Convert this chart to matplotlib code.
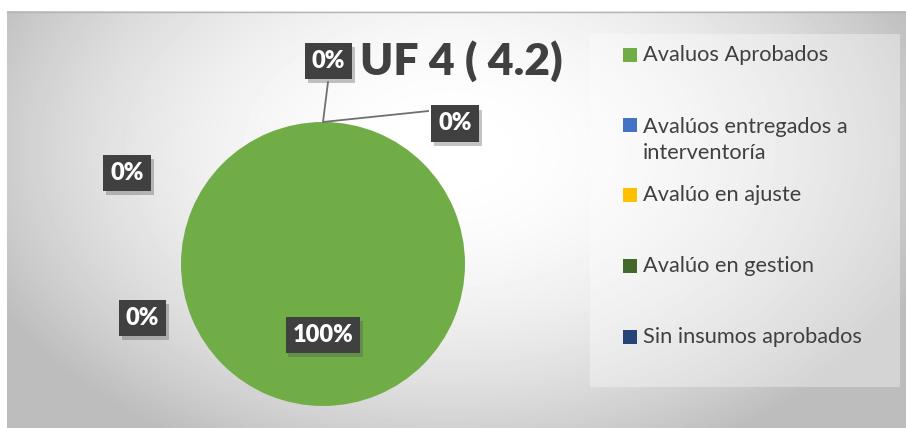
import numpy as np
import matplotlib
matplotlib.use('Agg')
import matplotlib.pyplot as plt
from matplotlib.patches import Rectangle
import matplotlib.patheffects as pe

plt.rcParams['font.family'] = ['Lato', 'DejaVu Sans']

# datos del grafico
categorias = ['Avaluos Aprobados', 'Avalúos entregados a\ninterventoría',
              'Avalúo en ajuste', 'Avalúo en gestion', 'Sin insumos aprobados']
valores = [100, 0, 0, 0, 0]
colores = ['#70AD47', '#4472C4', '#FFC000', '#43682B', '#264478']
titulo = 'UF 4 ( 4.2)'

W, H = 906, 428
fig = plt.figure(figsize=(W / 100, H / 100), dpi=100)

# fondo con degradado radial, en coordenadas de pixel
fondo = fig.add_axes([0, 0, 1, 1])
fondo.set_xlim(0, W)
fondo.set_ylim(H, 0)
fondo.axis('off')
xx, yy = np.meshgrid(np.arange(7, W), np.arange(11, H))
r2 = ((xx - 450) / 500.0) ** 2 + ((yy - 150) / 330.0) ** 2
gris = np.clip(1 - 0.25 * r2, 0.74, 1)
fondo.imshow(gris, cmap='gray', vmin=0, vmax=1, extent=(7, W, H, 11),
             aspect='auto', zorder=0)
fondo.plot([7, W], [11.5, 11.5], color='#b5b5b5', lw=1, zorder=1)
fondo.add_patch(Rectangle((590, 34), 310, 353, facecolor='white', alpha=0.35,
                          edgecolor='none', zorder=1))

# leyenda
pos_ley = [55, 140, 195, 266, 337]
for cat, col, y in zip(categorias, colores, pos_ley):
    lineas = cat.split('\n')
    y0 = y - (len(lineas) - 1) * 15
    fondo.add_patch(Rectangle((623, y0 - 7), 14, 14, facecolor=col,
                              edgecolor='none', zorder=2))
    fondo.text(643, y, cat, fontsize=15.7, color='#404040', va='center',
               ha='left', linespacing=1.35, zorder=2)

fondo.text(461, 61, titulo, fontsize=32, fontweight='heavy', color='#404040',
           ha='center', va='center', zorder=2)

# pastel: centro (323, 264) px, radio 142 px
cx, cy, R = 323, 264, 142
ax = fig.add_axes([(cx - 2 * R) / W, 0, 4 * R / W, (H - 11) / H])
ax.pie(valores, colors=colores, startangle=90, counterclock=False,
       wedgeprops={'linewidth': 0})
ax.set_aspect('auto')
ax.set_xlim(-2, 2)
ax.set_ylim(-(H - cy) / R, (cy - 11) / R)
ax.axis('off')

# lineas guia de las etiquetas en cero
ax.plot([0.035, 0.0, 0.74], [1.28, 1.0, 1.077], color='#707070', lw=1.3, zorder=3)

total = sum(valores)
etiquetas = ['%d%%' % round(100 * v / total) for v in valores]
pos_etq = [(0.0, -0.5), (0.93, 0.99), (-1.38, 0.64), (-1.27, -0.38), (0.04, 1.43)]
for txt, (u, v) in zip(etiquetas, pos_etq):
    t = ax.text(u, v, txt, fontsize=17, fontweight='heavy', color='white',
                ha='center', va='center', zorder=5,
                bbox=dict(boxstyle='square,pad=0.3', facecolor='#404040',
                          edgecolor='none'))
    t.get_bbox_patch().set_path_effects([
        pe.SimplePatchShadow(offset=(2, -3), alpha=0.35, shadow_rgbFace='#555555'),
        pe.Normal()])

fig.savefig('out.png', dpi=100)
